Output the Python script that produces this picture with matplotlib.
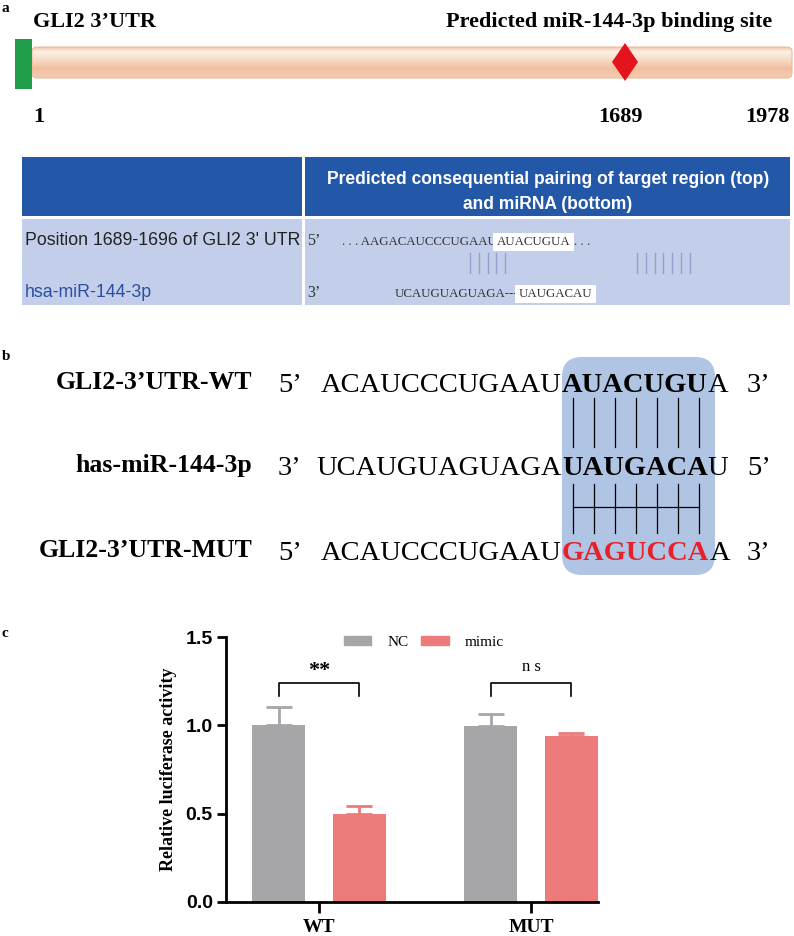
import numpy as np
import matplotlib
matplotlib.use('Agg')
import matplotlib.pyplot as plt
from matplotlib import font_manager
from matplotlib.patches import Rectangle, FancyBboxPatch, Polygon, Patch
from matplotlib.colors import LinearSegmentedColormap

# ---- panel a: GLI2 3'UTR schematic + TargetScan table ----
utr_labels = ['1', '1689', '1978']
utr_title = 'GLI2 3\u2019UTR'
site_title = 'Predicted miR-144-3p binding site'
table_header = ['Predicted consequential pairing of target region (top)',
                'and miRNA (bottom)']
table_rows = ['Position 1689-1696 of GLI2 3\' UTR', 'hsa-miR-144-3p']
target_seq = ['AAGACAUCCCUGAAU', 'AUACUGUA']
mirna_seq = ['UCAUGUAGUAGA---', 'UAUGACAU']

# ---- panel b: seed pairing ----
row_names = ['GLI2-3\u2019UTR-WT', 'has-miR-144-3p', 'GLI2-3\u2019UTR-MUT']
row_ends = [('5\u2019', '3\u2019'), ('3\u2019', '5\u2019'), ('5\u2019', '3\u2019')]
wt_seq = ['ACAUCCCUGAAU', 'AUACUGU', 'A']
mir_seq = ['UCAUGUAGUAGA', 'UAUGACA', 'U']
mut_seq = ['ACAUCCCUGAAU', 'GAGUCCA', 'A']

# ---- panel c: luciferase assay ----
groups = ['WT', 'MUT']
nc_mean = [1.00, 0.995]
nc_err = [0.105, 0.068]
mimic_mean = [0.50, 0.94]
mimic_err = [0.045, 0.016]
sig_labels = ['**', 'n s']

SERIF = 'Liberation Serif'
SANS = 'Liberation Sans'
names = {f.name for f in font_manager.fontManager.ttflist}
NARROW = 'Liberation Sans Narrow' if 'Liberation Sans Narrow' in names else SANS
narrow_scale = 1.0 if NARROW != SANS else 0.8

fig = plt.figure(figsize=(7.94, 9.36), dpi=100)
ax0 = fig.add_axes([0, 0, 1, 1])
ax0.set_xlim(0, 794)
ax0.set_ylim(936, 0)
ax0.axis('off')
r = fig.canvas.get_renderer()


def right_of(t):
    bb = t.get_window_extent(renderer=r)
    return ax0.transData.inverted().transform((bb.x1, bb.y1))[0]


# panel letters
for letter, y in [('a', 12), ('b', 360), ('c', 637)]:
    ax0.text(2, y, letter, fontsize=11, fontweight='bold', family=SERIF,
             va='baseline')

# --- a: schematic bar
ax0.text(33, 27, utr_title, fontsize=16, fontweight='bold', family=SERIF,
         va='baseline')
ax0.text(772, 27, site_title, fontsize=16, fontweight='bold', family=SERIF,
         va='baseline', ha='right')

grad = np.linspace(0, 1, 64).reshape(-1, 1)
cmap = LinearSegmentedColormap.from_list(
    'utr', [(0, '#f3c6ab'), (0.15, '#fdf1e8'), (0.7, '#f2bf9f'), (1, '#f5ccb2')])
im = ax0.imshow(grad, cmap=cmap, extent=(32, 792, 78, 47), aspect='auto',
                origin='upper')
bar_patch = FancyBboxPatch((32, 47), 760, 31,
                           boxstyle='round,pad=0,rounding_size=5',
                           fc='none', ec='#ecbb9d', lw=0.8)
ax0.add_patch(bar_patch)
im.set_clip_path(bar_patch)
ax0.add_patch(Rectangle((15, 39), 17, 50, fc='#1f9d4a', ec='none'))
ax0.add_patch(Polygon([(612, 62), (625, 43), (638, 62), (625, 81)],
                      closed=True, fc='#e3141c', ec='none'))
ax0.set_xlim(0, 794)
ax0.set_ylim(936, 0)

for lab, x, ha in zip(utr_labels, [33, 621, 790], ['left', 'center', 'right']):
    ax0.text(x, 122, lab, fontsize=16, fontweight='bold', family=SERIF,
             va='baseline', ha=ha)

# --- a: table
head_c = '#2357a8'
body_c = '#c3cfea'
ax0.add_patch(Rectangle((22, 157), 280, 59, fc=head_c, ec='none'))
ax0.add_patch(Rectangle((305, 157), 485, 59, fc=head_c, ec='none'))
ax0.add_patch(Rectangle((22, 219), 280, 86, fc=body_c, ec='none'))
ax0.add_patch(Rectangle((305, 219), 485, 86, fc=body_c, ec='none'))
for line, y in zip(table_header, [184, 209]):
    ax0.text(548, y, line, color='white', fontsize=15.8 * narrow_scale,
             fontweight='bold', family=NARROW, ha='center', va='baseline')
ax0.text(25, 245, table_rows[0], color='#222222', fontsize=16 * narrow_scale,
         family=NARROW, va='baseline')
ax0.text(25, 297, table_rows[1], color='#2d4da0', fontsize=16 * narrow_scale,
         family=NARROW, va='baseline')

seq_kw = dict(fontsize=9.3, family=SERIF, va='baseline', color='#333333')
ax0.text(307, 245, '5\u2019', fontsize=11.5, family=SERIF, va='baseline',
         color='#333333')
ax0.text(307, 297, '3\u2019', fontsize=11.5, family=SERIF, va='baseline',
         color='#333333')
t = ax0.text(342, 245, '. . . ' + target_seq[0], **seq_kw)
t = ax0.text(right_of(t), 245, target_seq[1], **seq_kw,
             bbox=dict(fc='white', ec='none', pad=2.5))
ax0.text(right_of(t) + 3, 245, '. . .', **seq_kw)
t = ax0.text(395, 297, mirna_seq[0], **seq_kw)
ax0.text(right_of(t), 297, mirna_seq[1], **seq_kw,
         bbox=dict(fc='white', ec='none', pad=2.5))
for x0, n in [(470, 5), (637, 7)]:
    for i in range(n):
        ax0.plot([x0 + i * 8.8] * 2, [253, 273], color='#9a9dcc', lw=1)

# --- b: pairing
bold_x = 562
ax0.add_patch(FancyBboxPatch((bold_x, 357), 153, 218,
                             boxstyle='round,pad=0,rounding_size=20',
                             fc='#b0c4e4', ec='none', zorder=0))
seq_rows = [wt_seq, mir_seq, mut_seq]
core_colors = ['black', 'black', '#e8202a']
baselines = [392, 475, 560]
core_span = None
for name, ends, seq, cc, yb in zip(row_names, row_ends, seq_rows,
                                   core_colors, baselines):
    ax0.text(252, yb - 3, name, fontsize=18.5, fontweight='bold', family=SERIF,
             ha='right', va='baseline')
    ax0.text(278, yb, ends[0], fontsize=20.5, family=SERIF, va='baseline')
    ax0.text(bold_x, yb, seq[0], fontsize=20.5, family=SERIF, va='baseline',
             ha='right')
    tb = ax0.text(bold_x, yb, seq[1], fontsize=20.5, family=SERIF,
                  fontweight='bold', color=cc, va='baseline')
    xe = right_of(tb)
    core_span = (bold_x, xe)
    ax0.text(xe, yb, seq[2], fontsize=20.5, family=SERIF, va='baseline')
    ax0.text(747, yb, ends[1], fontsize=20.5, family=SERIF, va='baseline')

step = (core_span[1] - core_span[0]) / 7
centers = [core_span[0] + (i + 0.5) * step for i in range(7)]
for cx in centers:
    ax0.plot([cx, cx], [398, 447], color='black', lw=0.9)
    ax0.plot([cx, cx], [484, 533], color='black', lw=0.9)
ax0.plot([centers[0], centers[-1]], [507, 507], color='black', lw=0.9)

# --- c: bar chart
ax = fig.add_axes([226 / 794, 1 - 902 / 936, 372 / 794, 265 / 936])
x = np.arange(len(groups))
off, w = 0.189, 0.25
nc_c, mi_c = '#a6a6a8', '#ee7b7b'
ax.bar(x - off, nc_mean, w, color=nc_c, label='NC', zorder=2)
ax.bar(x + off, mimic_mean, w, color=mi_c, label='mimic', zorder=2)
ax.errorbar(x - off, nc_mean, yerr=[np.zeros(2), nc_err], fmt='none',
            ecolor=nc_c, elinewidth=2, capsize=9.4, capthick=2, zorder=1)
ax.errorbar(x + off, mimic_mean, yerr=[np.zeros(2), mimic_err], fmt='none',
            ecolor=mi_c, elinewidth=2, capsize=9.4, capthick=2, zorder=1)
for xi, lab in zip(x, sig_labels):
    ax.plot([xi - off, xi - off, xi + off, xi + off],
            [1.165, 1.239, 1.239, 1.165], color='black', lw=1.2)
    if lab == '**':
        ax.text(xi, 1.31, lab, ha='center', va='center', fontsize=16,
                fontweight='bold', family=SERIF)
    else:
        ax.text(xi, 1.33, lab, ha='center', va='center', fontsize=12,
                family=SERIF)
ax.set_xlim(-0.439, 1.316)
ax.set_ylim(0, 1.5)
ax.set_yticks([0, 0.5, 1.0, 1.5])
ax.set_yticklabels(['0.0', '0.5', '1.0', '1.5'], fontsize=14,
                   fontweight='bold', family=SANS)
ax.set_xticks(x)
ax.set_xticklabels(groups, fontsize=14, fontweight='bold', family=SERIF)
ax.tick_params(axis='y', length=6.5, width=2, pad=3)
ax.tick_params(axis='x', length=8, width=2, pad=4)
for s in ['top', 'right']:
    ax.spines[s].set_visible(False)
for s in ['left', 'bottom']:
    ax.spines[s].set_linewidth(2)
ax.set_ylabel('Relative luciferase activity', fontsize=13, fontweight='bold',
              family=SERIF, labelpad=6)
ax.legend(handles=[Patch(color=nc_c, label='NC'), Patch(color=mi_c, label='mimic')],
          loc='center', bbox_to_anchor=(0.532, 0.981), ncol=2, frameon=False,
          prop={'family': SERIF, 'size': 11}, handlelength=1.8,
          handleheight=0.55, handletextpad=1.05, columnspacing=0.85)

fig.savefig('out.png', dpi=100)
